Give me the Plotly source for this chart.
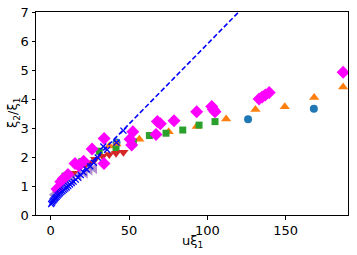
import plotly.graph_objects as go

# Data
circ_x = [42.0, 126.0, 168.0]
circ_y = [2.50, 3.30, 3.66]

tri_x = [37.4, 42.0, 56.6, 75.3, 93.2, 112.0, 130.7, 149.4, 168.2, 186.7]
tri_y = [2.38, 2.45, 2.61, 2.87, 3.05, 3.31, 3.64, 3.73, 4.05, 4.41]

sq_x = [9.1, 19.8, 20.8, 31.0, 41.7, 52.4, 52.7, 63.0, 73.6, 84.3, 94.7, 104.9]
sq_y = [1.34, 1.84, 1.80, 2.20, 2.27, 2.49, 2.53, 2.74, 2.82, 2.93, 3.10, 3.22]

dn_x = [12.0, 14.4, 18.3, 22.0, 25.0, 28.3, 33.2, 37.4, 41.7, 46.4]
dn_y = [1.40, 1.44, 1.67, 1.72, 1.80, 1.92, 2.03, 2.09, 2.13, 2.16]

lt_x = [2.0, 4.0, 6.0, 10.0, 14.0, 18.0, 22.0, 25.0, 28.0]
lt_y = [0.70, 0.80, 0.90, 1.05, 1.20, 1.35, 1.45, 1.55, 1.60]

dia_x = [4.0, 6.4, 8.0, 11.0, 15.5, 18.0, 21.0, 26.4, 34.0, 34.1, 50.6, 51.7,
         52.4, 67.2, 68.1, 70.0, 78.7, 93.2, 102.8, 104.9, 103.8, 133.0,
         135.0, 137.0, 139.5, 186.7]
dia_y = [0.90, 1.15, 1.25, 1.40, 1.78, 1.70, 1.85, 2.28, 1.78, 2.64, 2.61, 2.41,
         2.87, 2.78, 3.22, 3.15, 3.25, 3.56, 3.74, 3.56, 3.64, 4.00,
         4.07, 4.14, 4.22, 4.92]

x_x = [0.3, 0.8, 1.2, 1.7, 2.2, 2.7, 3.2, 3.8, 4.5, 5.2, 5.9, 6.7, 7.5, 8.4,
       9.3, 10.2, 11.2, 12.3, 13.4, 14.6, 16.0, 17.5, 19.2, 21.0, 23.0,
       25.2, 27.5, 30.0, 33.6, 36.0, 42.0, 46.4]
x_y = [0.38, 0.42, 0.47, 0.50, 0.53, 0.57, 0.60, 0.63, 0.67, 0.71, 0.75, 0.79,
       0.83, 0.87, 0.91, 0.95, 1.00, 1.05, 1.10, 1.15, 1.22, 1.29, 1.38, 1.47,
       1.57, 1.68, 1.80, 1.98, 2.36, 2.25, 2.50, 2.91]

line_x = [0.0, 130.0]
line_y = [0.38, 7.55]

fig = go.Figure()
fig.add_trace(go.Scatter(x=circ_x, y=circ_y, mode="markers",
                         marker=dict(symbol="circle", size=8, color="#1f77b4")))
fig.add_trace(go.Scatter(x=tri_x, y=tri_y, mode="markers",
                         marker=dict(symbol="triangle-up", size=9, color="#ff7f0e")))
fig.add_trace(go.Scatter(x=sq_x, y=sq_y, mode="markers",
                         marker=dict(symbol="square", size=7, color="#2ca02c")))
fig.add_trace(go.Scatter(x=dn_x, y=dn_y, mode="markers",
                         marker=dict(symbol="triangle-down", size=9, color="#d62728")))
fig.add_trace(go.Scatter(x=lt_x, y=lt_y, mode="markers",
                         marker=dict(symbol="triangle-left", size=10, color="#9467bd",
                                     opacity=0.75)))
fig.add_trace(go.Scatter(x=dia_x, y=dia_y, mode="markers",
                         marker=dict(symbol="diamond", size=10, color="#ff00ff")))
fig.add_trace(go.Scatter(x=x_x, y=x_y, mode="markers",
                         marker=dict(symbol="x-thin", size=6, color="blue",
                                     line=dict(width=1.3, color="blue"))))
fig.add_trace(go.Scatter(x=line_x, y=line_y, mode="lines",
                         line=dict(color="blue", width=1.6, dash="5px,2.5px")))

axis_common = dict(showgrid=False, zeroline=False, showline=True, mirror=True,
                   linecolor="black", linewidth=1, ticks="outside", ticklen=3.5,
                   tickcolor="black", automargin=False,
                   tickfont=dict(family="DejaVu Sans", size=13, color="black"))
fig.update_layout(
    width=357, height=255,
    margin=dict(l=36, r=9, t=12, b=40, autoexpand=False),
    paper_bgcolor="white", plot_bgcolor="white",
    showlegend=False,
    font=dict(family="DejaVu Sans", size=13, color="black"),
    xaxis=dict(range=[-9.4, 189.8], tickvals=[0, 50, 100, 150], **axis_common),
    yaxis=dict(range=[0, 7], tickvals=[0, 1, 2, 3, 4, 5, 6, 7], **axis_common),
    annotations=[
        dict(text="uξ<sub>1</sub>", xref="paper", yref="paper", x=0.5, y=-0.13,
             xanchor="center", yanchor="middle", showarrow=False,
             font=dict(family="DejaVu Sans", size=13, color="black")),
        dict(text="ξ<sub>2</sub>/ξ<sub>1</sub>", xref="paper", yref="paper",
             x=-0.072, y=0.5, xanchor="center", yanchor="middle", textangle=-90,
             showarrow=False,
             font=dict(family="DejaVu Sans", size=13, color="black")),
    ],
)
fig.write_html("out.html", config={"displayModeBar": False},
               post_script="document.body.style.margin='0';document.body.style.overflow='hidden';")
